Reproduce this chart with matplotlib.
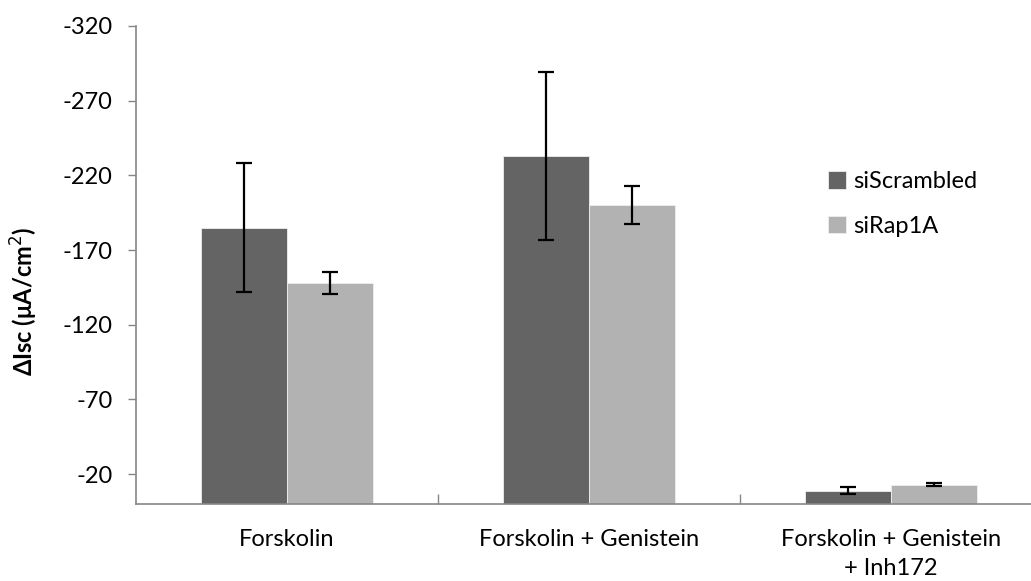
import numpy as np
import matplotlib.pyplot as plt
from matplotlib.ticker import FixedLocator

plt.rcParams['font.family'] = ['Lato', 'DejaVu Sans']

# data
categories = ['Forskolin', 'Forskolin + Genistein', 'Forskolin + Genistein\n+ Inh172']
scrambled = [-185, -233, -9]
scrambled_err = [43, 56, 2.5]
rap1a = [-148, -200, -13]
rap1a_err = [7.5, 12.7, 1.2]
yticks = [-320, -270, -220, -170, -120, -70, -20]

fig = plt.figure(figsize=(10.31, 5.81), dpi=100)
W, H = 1031, 581
ax = fig.add_axes([136 / W, 1 - 504 / H, 906 / W, (504 - 26) / H])

x = np.arange(len(categories))
w = 0.285
c_dark = '#646464'
c_light = '#b2b2b2'
ekw = dict(ecolor='black', elinewidth=1.6, capsize=6, capthick=1.6)
ax.bar(x - w / 2, scrambled, w, color=c_dark, edgecolor='#eeeeee', linewidth=0.6,
       yerr=scrambled_err, error_kw=ekw, label='siScrambled', zorder=2)
ax.bar(x + w / 2, rap1a, w, color=c_light, edgecolor='#eeeeee', linewidth=0.6,
       yerr=rap1a_err, error_kw=ekw, label='siRap1A', zorder=2)

ax.set_xlim(-0.5, len(categories) - 0.5)
ax.set_ylim(0, -320)
ax.yaxis.set_major_locator(FixedLocator(yticks))
ax.set_yticklabels([str(v) for v in yticks])

ax.set_xticks(x)
ax.set_xticklabels(categories, linespacing=1.45)
ax.xaxis.set_minor_locator(FixedLocator([0.5, 1.5]))
ax.tick_params(axis='x', which='major', length=0, pad=18, labelsize=17)
ax.tick_params(axis='x', which='minor', direction='in', length=7, color='#868686', width=1)
ax.tick_params(axis='y', direction='out', length=6, color='#868686', width=1, labelsize=17, pad=11)

for s in ['top', 'right']:
    ax.spines[s].set_visible(False)
for s in ['left', 'bottom']:
    ax.spines[s].set_color('#868686')
    ax.spines[s].set_linewidth(1.2)

ax.set_ylabel('ΔIsc (μA/cm$^2$)', fontsize=17, fontweight='bold')
ax.yaxis.set_label_coords(-0.106, 0.425)

leg = ax.legend(loc='upper left', bbox_to_anchor=(807 / W, 1 - 150 / H),
                bbox_transform=fig.transFigure, frameon=False, fontsize=17,
                handlelength=0.75, handleheight=0.75, handletextpad=0.3, labelspacing=1.0)

fig.savefig('out.png', dpi=100)
